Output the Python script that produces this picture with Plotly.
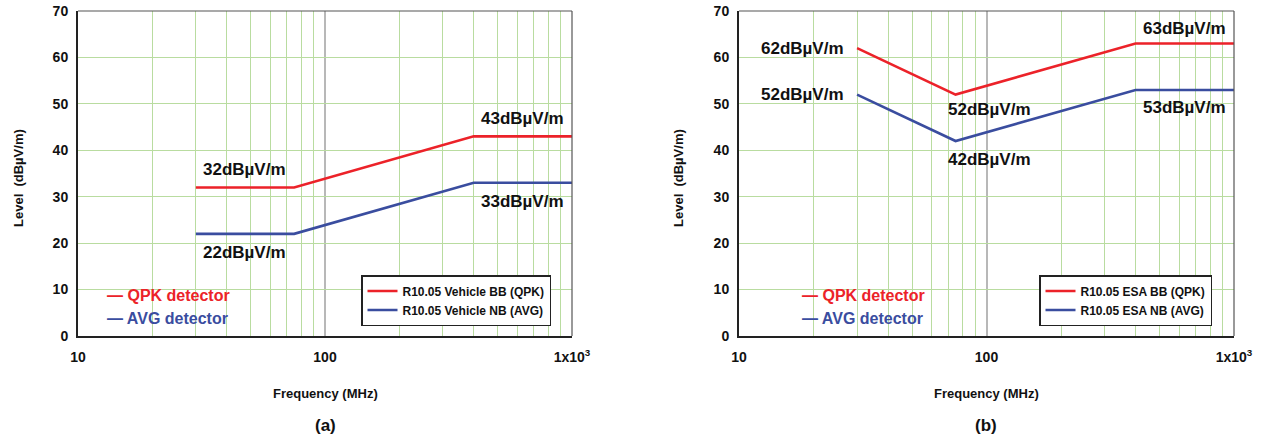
import math
import plotly.graph_objects as go

# ---- data ----
freq_a = [30, 75, 400, 1000]
qpk_a = [32, 32, 43, 43]
avg_a = [22, 22, 33, 33]

freq_b = [30, 75, 400, 1000]
qpk_b = [62, 52, 63, 63]
avg_b = [52, 42, 53, 53]

names_a = ["R10.05 Vehicle BB (QPK)", "R10.05 Vehicle NB (AVG)"]
names_b = ["R10.05 ESA BB (QPK)", "R10.05 ESA NB (AVG)"]

x_tickvals = [10, 100, 1000]
x_ticktext = ["10", "100", "1x10<sup>3</sup>"]
x_minor = [20, 30, 40, 50, 60, 70, 80, 90, 200, 300, 400, 500, 600, 700, 800, 900]
y_tickvals = [0, 10, 20, 30, 40, 50, 60, 70]

RED = "#ec2229"
BLUE = "#3a4d9f"
GREEN = "#b9dca0"
FONT = "Liberation Sans Narrow, Arial Narrow, Liberation Sans, sans-serif"

W, H = 1262, 440
dom_a = [78 / W, 572 / W]
dom_b = [739 / W, 1234 / W]
dom_y = [1 - 336 / H, 1 - 11 / H]

fig = go.Figure()

def add_series(xs, ys, name, color, xa, ya, legend):
    fig.add_trace(go.Scatter(
        x=xs, y=ys, mode="lines", name=name,
        line=dict(color=color, width=2.6),
        xaxis=xa, yaxis=ya, legend=legend, hoverinfo="skip",
    ))

add_series(freq_a, qpk_a, names_a[0], RED, "x", "y", "legend")
add_series(freq_a, avg_a, names_a[1], BLUE, "x", "y", "legend")
add_series(freq_b, qpk_b, names_b[0], RED, "x2", "y2", "legend2")
add_series(freq_b, avg_b, names_b[1], BLUE, "x2", "y2", "legend2")

tickfont = dict(family=FONT, size=14, color="#111", weight="bold")

def xaxis(domain, anchor):
    return dict(
        domain=domain, anchor=anchor, type="log", range=[1, 3],
        tickvals=x_tickvals, ticktext=x_ticktext, tickfont=tickfont,
        showgrid=True, gridcolor="#b8b8b8", gridwidth=1.5,
        minor=dict(tickvals=x_minor, showgrid=True, gridcolor=GREEN, gridwidth=1.2, ticks=""),
        showline=True, linecolor="#222", linewidth=2, ticks="",
        ticklabelstandoff=7, zeroline=False, automargin=False,
    )

def yaxis(anchor):
    return dict(
        domain=dom_y, anchor=anchor, range=[0, 70],
        tickvals=y_tickvals, tickfont=tickfont,
        showgrid=True, gridcolor=GREEN, gridwidth=1.2,
        showline=True, linecolor="#222", linewidth=2, ticks="",
        ticklabelstandoff=5, zeroline=False, automargin=False,
    )

legend_style = dict(
    font=dict(family=FONT, size=12, color="#111", weight="bold"),
    bgcolor="white", bordercolor="#222", borderwidth=1.5,
    xanchor="right", yanchor="bottom", itemwidth=30,
    tracegroupgap=0, traceorder="normal",
)

fig.update_layout(
    width=W, height=H,
    margin=dict(l=0, r=0, t=0, b=0, autoexpand=False),
    paper_bgcolor="white", plot_bgcolor="white",
    showlegend=True,
    xaxis=xaxis(dom_a, "y"), yaxis=yaxis("x"),
    xaxis2=xaxis(dom_b, "y2"), yaxis2=yaxis("x2"),
    legend=dict(x=551 / W, y=1 - 326 / H, **legend_style),
    legend2=dict(x=1212 / W, y=1 - 326 / H, **legend_style),
)

# top/right frame lines
for xr, yr in [("x domain", "y domain"), ("x2 domain", "y2 domain")]:
    fig.add_shape(type="line", xref=xr, yref=yr, x0=0, x1=1, y0=1, y1=1,
                  line=dict(color="#555", width=1.2))
    fig.add_shape(type="line", xref=xr, yref=yr, x0=1, x1=1, y0=0, y1=1,
                  line=dict(color="#555", width=1.2))

lab_font = dict(family=FONT, size=17, color="#111", weight="bold")

def gmean(a, b):
    return (math.log10(a) + math.log10(b)) / 2

def label(xa, ya, xlog, yval, yshift, xanchor="center", xshift=0):
    fig.add_annotation(
        xref=xa, yref=ya, x=xlog, y=yval, text=f"{yval}dBµV/m",
        showarrow=False, font=lab_font, xanchor=xanchor, yanchor="middle",
        yshift=yshift, xshift=xshift,
    )

# chart (a) labels
label("x", "y", gmean(freq_a[0], freq_a[1]), qpk_a[0], 18)
label("x", "y", gmean(freq_a[0], freq_a[1]), avg_a[0], -19)
label("x", "y", gmean(freq_a[2], freq_a[3]), qpk_a[2], 18)
label("x", "y", gmean(freq_a[2], freq_a[3]), avg_a[2], -19)

# chart (b) labels
label("x2", "y2", math.log10(freq_b[0]), qpk_b[0], 0, "right", -11)
label("x2", "y2", math.log10(freq_b[0]), avg_b[0], 0, "right", -11)
label("x2", "y2", math.log10(freq_b[1]), qpk_b[1], -15, "left", -10)
label("x2", "y2", math.log10(freq_b[1]), avg_b[1], -18, "left", -10)
label("x2", "y2", gmean(freq_b[2], freq_b[3]), qpk_b[2], 15)
label("x2", "y2", gmean(freq_b[2], freq_b[3]), avg_b[2], -18)

# detector text legends
det_font = dict(family=FONT, size=16, weight="bold")
for x0, xpx in [(78, 27), (739, 61)]:
    for txt, col, ypx in [("QPK detector", RED, 295), ("AVG detector", BLUE, 318)]:
        fig.add_annotation(
            xref="paper", yref="paper",
            x=(x0 + xpx) / W, y=1 - ypx / H,
            text=f"— {txt}", showarrow=False, xanchor="left", yanchor="middle",
            font=dict(color=col, **det_font),
        )

# axis titles and captions
ax_font = dict(family=FONT, size=13, color="#111", weight="bold")
for cx, lx, cap in [(325, 18, "(a)"), (986, 678, "(b)")]:
    fig.add_annotation(xref="paper", yref="paper", x=cx / W, y=1 - 393 / H,
                       text="Frequency (MHz)", showarrow=False, font=ax_font,
                       xanchor="center", yanchor="middle")
    fig.add_annotation(xref="paper", yref="paper", x=cx / W, y=1 - 425 / H,
                       text=cap, showarrow=False,
                       font=dict(family=FONT, size=17, color="#111", weight="bold"),
                       xanchor="center", yanchor="middle")
    fig.add_annotation(xref="paper", yref="paper", x=lx / W, y=1 - 178 / H,
                       text="Level  (dBµV/m)", showarrow=False, font=ax_font,
                       textangle=-90, xanchor="center", yanchor="middle")

fig.write_html(
    "out.html",
    config={"displayModeBar": False},
    post_script="document.body.style.margin='0';document.body.style.overflow='hidden';",
)
